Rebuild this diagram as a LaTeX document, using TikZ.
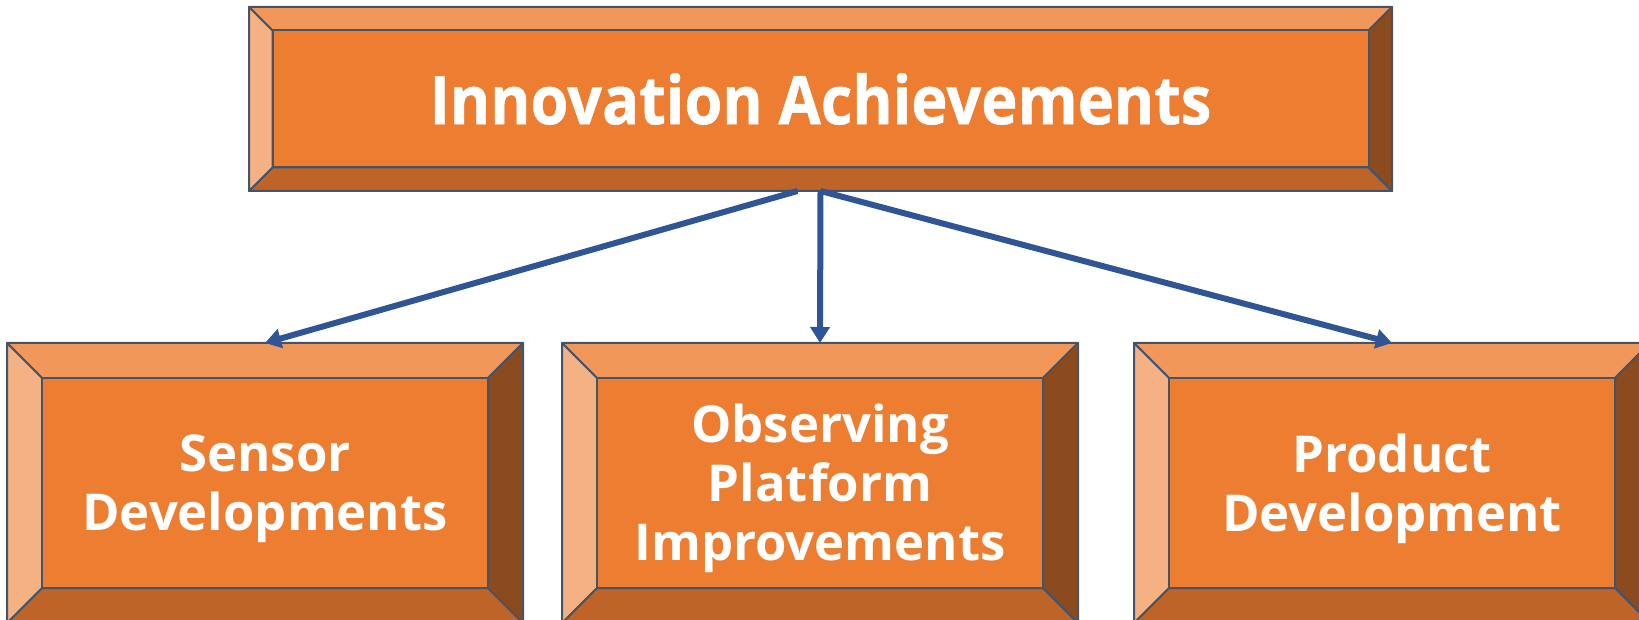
\documentclass[tikz,border=0pt]{standalone}
\usepackage{fontspec}
\setmainfont{Open Sans}
\newfontfamily\heavyfont{Open Sans}[UprightFeatures={FakeBold=0}, BoldFeatures={FakeBold=0.8}]
\usetikzlibrary{arrows.meta,calc,backgrounds}
\definecolor{cmain}{HTML}{ED7D31}
\definecolor{ctop}{HTML}{F1975A}
\definecolor{cleft}{HTML}{F4B183}
\definecolor{cbot}{HTML}{BF6428}
\definecolor{cright}{HTML}{8C4A1F}
\definecolor{edge}{HTML}{44546A}
\definecolor{arrowc}{HTML}{2F5597}
\tikzset{
  box/.style={rectangle, inner sep=0pt, outer sep=0pt},
  topbox/.style={box, minimum width=571.5pt, minimum height=92pt},
  subbox/.style={box, minimum width=258pt, minimum height=140pt},
  toptext/.style={inner sep=0pt, text=white, align=center, xscale=0.915,
    font=\heavyfont\bfseries\fontsize{33.5}{40}\selectfont},
  subtext/.style={inner sep=0pt, text=white, align=center,
    font=\bfseries\fontsize{25.4}{29.5}\selectfont},
  facet/.style={draw=edge, line width=1pt, line join=round},
  arr/.style={draw=arrowc, line width=3pt, -{Triangle[length=8pt,width=9.5pt]}}
}
\newcommand\bevelbox[2]{%
  \path[facet, fill=ctop] (#1.north west) -- (#1.north east) -- ($(#1.north east)+(-#2pt,-#2pt)$) -- ($(#1.north west)+(#2pt,-#2pt)$) -- cycle;
  \path[facet, fill=cbot] (#1.south west) -- (#1.south east) -- ($(#1.south east)+(-#2pt,#2pt)$) -- ($(#1.south west)+(#2pt,#2pt)$) -- cycle;
  \path[facet, fill=cleft] (#1.north west) -- ($(#1.north west)+(#2pt,-#2pt)$) -- ($(#1.south west)+(#2pt,#2pt)$) -- (#1.south west) -- cycle;
  \path[facet, fill=cright] (#1.north east) -- ($(#1.north east)+(-#2pt,-#2pt)$) -- ($(#1.south east)+(-#2pt,#2pt)$) -- (#1.south east) -- cycle;
  \path[facet, fill=cmain] ($(#1.north west)+(#2pt,-#2pt)$) rectangle ($(#1.south east)+(-#2pt,#2pt)$);
}
\begin{document}
\begin{tikzpicture}[x=0.5pt,y=-0.5pt]
\useasboundingbox (0,0) rectangle (1639,620);
\node[topbox] (top) at (820.5,99) {};
\node[subbox] (sensor) at (265,483) {};
\node[subbox] (obs) at (820,483) {};
\node[subbox] (prod) at (1392,483) {};
\bevelbox{top}{11.75}
\bevelbox{sensor}{17.5}
\bevelbox{obs}{17.5}
\bevelbox{prod}{17.5}
\node[toptext] (toplabel) at (top.center) {Innovation Achievements};
\node[subtext] (sensorlabel) at ([yshift=-3pt]sensor.center) {Sensor\\Developments};
\node[subtext] (obslabel) at ([yshift=-2.5pt]obs.center) {Observing\\Platform\\Improvements};
\node[subtext] (prodlabel) at ([yshift=-3pt]prod.center) {Product\\Development};
\draw[arr] ([xshift=-11.5pt]top.south) -- (sensor.north);
\draw[arr] (top.south) -- (obs.north);
\draw[arr] (top.south) -- (prod.north);
\end{tikzpicture}
\end{document}
